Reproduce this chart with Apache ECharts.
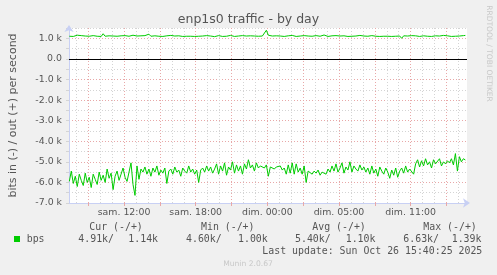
<!DOCTYPE html>
<html><head><meta charset="utf-8">
<script src="https://cdn.jsdelivr.net/npm/echarts@6/dist/echarts.min.js"></script>
<style>html,body{margin:0;padding:0;background:#F0F0F0;}#c{width:497px;height:275px;}</style>
</head><body><div id="c"></div>
<script>
// ---- data (kbit/s) ----
const startHour = 7.4167;      // Sat 07:25 (hours since Sat 00:00)
const stepHours = 1 / 6;       // 10-minute samples
const outValues = [
1.10,1.12,1.09,1.11,1.15,1.10,1.13,1.08,1.11,1.12,1.10,1.09,1.13,1.11,1.10,1.12,1.09,1.22,1.10,1.11,
1.12,1.09,1.11,1.14,1.10,1.08,1.12,1.11,1.13,1.09,1.10,1.12,1.15,1.10,1.11,1.09,1.12,1.10,1.13,1.11,
1.20,1.10,1.09,1.12,1.11,1.10,1.13,1.09,1.11,1.12,1.10,1.14,1.09,1.11,1.10,1.12,1.13,1.09,1.11,1.10,
1.12,1.10,1.15,1.09,1.11,1.10,1.12,1.11,1.09,1.13,1.10,1.11,1.12,1.08,1.10,1.13,1.11,1.09,1.12,1.10,
1.11,1.14,1.10,1.09,1.12,1.11,1.10,1.13,1.09,1.11,1.10,1.12,1.09,1.11,1.13,1.10,1.08,1.11,1.12,1.39,
1.15,1.10,1.11,1.09,1.12,1.10,1.11,1.13,1.09,1.10,1.12,1.11,1.14,1.10,1.09,1.12,1.11,1.10,1.13,1.09,
1.11,1.12,1.10,1.09,1.13,1.11,1.10,1.12,1.16,1.10,1.09,1.11,1.12,1.10,1.13,1.09,1.11,1.10,1.12,1.11,
1.09,1.13,1.10,1.12,1.11,1.09,1.14,1.10,1.11,1.12,1.10,1.09,1.13,1.11,1.10,1.12,1.09,1.11,1.10,1.14,
1.10,1.12,1.09,1.11,1.10,1.13,1.11,1.00,1.12,1.10,1.11,1.09,1.13,1.10,1.12,1.11,1.09,1.10,1.12,1.11,
1.10,1.13,1.09,1.11,1.12,1.10,1.11,1.09,1.14,1.10,1.12,1.11,1.09,1.15,1.10,1.12,1.11,1.19,1.13,1.14
];
const inValues = [
-5.95,-5.45,-6.05,-5.7,-6.2,-5.6,-5.9,-6.15,-5.55,-6.0,-5.75,-6.25,-5.6,-5.85,-6.1,-5.5,-5.9,
-5.65,-6.0,-5.35,-5.8,-5.55,-6.35,-5.7,-5.45,-5.9,-5.6,-5.3,-5.75,-5.95,-5.5,
-5.05,-6.1,-6.63,-5.2,-5.85,-5.35,
-5.5,-5.25,-5.6,-5.35,-5.7,-5.3,-5.5,-5.2,-5.65,-5.4,-5.55,-5.3,-6.05,-5.45,-5.35,-5.6,-5.25,-5.5,-5.4,-5.7,-5.3,-5.45,-5.55,-5.2,-5.5,-5.35,-5.6,-5.4,-6.0,-5.4,
-5.3,-5.5,-5.2,-5.45,-5.25,-5.55,-5.35,-5.1,-5.6,-5.2,-5.45,-5.05,-5.65,-5.25,-5.4,-5.0,-5.55,-5.15,-5.45,-5.2,-5.6,-5.1,-5.35,-4.9,-5.3,-5.15,-5.45,-5.05,-5.3,-5.2,
-5.2,-5.3,-5.15,-5.7,-5.25,-5.2,-5.35,-5.25,-5.3,-5.2,-5.4,-5.3,-5.6,-5.15,-5.55,-5.05,-5.6,-5.1,-5.5,-5.3,
-5.6,-5.2,-6.0,-5.45,
-5.5,-5.6,-5.45,-5.55,-5.4,-5.65,-5.5,-5.45,-5.6,-5.35,-5.5,
-5.2,-5.45,-5.1,-5.5,-5.3,-5.05,-5.55,-5.25,-5.4,-5.0,-5.5,-5.2,-5.35,-5.45,-5.15,-5.4,-5.25,-5.5,
-5.3,-5.6,-5.2,-5.55,-5.35,-5.7,-5.25,-5.45,-5.6,-5.3,-5.5,-5.8,-5.4,-5.65,-5.3,-5.75,-5.45,-5.3,-5.55,-5.2,-5.5,-5.35,-5.4,-5.6,
-5.1,-4.9,-5.25,-4.95,-5.2,-4.85,-5.15,-5.0,-5.3,-4.9,-5.1,-5.05,-4.85,-5.2,-5.0,
-5.1,-4.95,-5.05,-4.85,-5.15,-4.6,-5.45,-4.75,-5.0,-4.85,-4.91
];
const tickHours = [12, 18, 24, 30, 36];
const tickLabels = ['sam. 12:00', 'sam. 18:00', 'dim. 00:00', 'dim. 05:00', 'dim. 11:00'];
const gridHours = [8,9,10,11,12,13,14,15,16,17,18,19,20,21,22,23,24,25,26,27,28,29,30,31,32,33,34,35,36,37,38,39,40];
const majorHours = [9,12,15,18,21,24,27,30,33,36,39];
const seriesName = 'bps';
const legendHeaders = ['Cur (-/+)', 'Min (-/+)', 'Avg (-/+)', 'Max (-/+)'];
const legendIn = ['4.91k/', '4.60k/', '5.40k/', '6.63k/'];
const legendOut = ['1.14k', '1.00k', '1.10k', '1.39k'];
const lastUpdate = 'Last update: Sun Oct 26 15:40:25 2025';

// ---- build ----
const GREEN = '#00CC00';
const MAJ = '#E8A8A8';
const MIN = '#D4D4D4';
const AXIS = '#C8D0F4';
const outData = outValues.map((v, i) => [startHour + i * stepHours, v]);
const inData = inValues.map((v, i) => [startHour + i * stepHours, v]);

const chart = echarts.init(document.getElementById('c'), null, {renderer: 'canvas', width: 497, height: 275});
const sans = 'DejaVu Sans';
const txtColor = '#555555';

const headerX = [89.3, 201, 312.3, 423.3];
const inX = [78.3, 186, 295, 403.3];
const outX = [128.3, 238, 345.7, 451.7];
const graphics = [
  {type: 'text', x: 248.5, y: 19.5, style: {text: 'enp1s0 traffic - by day', font: '12.5px "DejaVu Sans"', fill: '#555555', align: 'center', verticalAlign: 'middle'}},
  {type: 'text', x: 488.5, y: 53.5, rotation: -Math.PI / 2, style: {text: 'RRDTOOL / TOBI OETIKER', font: '7.5px "DejaVu Sans"', fill: '#C8C8C8', align: 'center', verticalAlign: 'middle'}},
  {type: 'rect', shape: {x: 14, y: 236, width: 6, height: 6}, style: {fill: GREEN}},
  {type: 'text', x: 26.7, y: 239.7, style: {text: seriesName, font: '9.9px "DejaVu Sans Mono"', fill: txtColor, align: 'left', verticalAlign: 'middle'}},
  {type: 'text', x: 482.3, y: 251.7, style: {text: lastUpdate, font: '9.9px "DejaVu Sans Mono"', fill: txtColor, align: 'right', verticalAlign: 'middle'}},
  {type: 'text', x: 248, y: 264, style: {text: 'Munin 2.0.67', font: '7.6px "DejaVu Sans"', fill: '#C8C8C8', align: 'center', verticalAlign: 'middle'}}
];
legendHeaders.forEach((h, k) => {
  graphics.push({type: 'text', x: headerX[k], y: 227.7, style: {text: h, font: '9.9px "DejaVu Sans Mono"', fill: txtColor, align: 'left', verticalAlign: 'middle'}});
  graphics.push({type: 'text', x: inX[k], y: 239.7, style: {text: legendIn[k], font: '9.9px "DejaVu Sans Mono"', fill: txtColor, align: 'left', verticalAlign: 'middle'}});
  graphics.push({type: 'text', x: outX[k], y: 239.7, style: {text: legendOut[k], font: '9.9px "DejaVu Sans Mono"', fill: txtColor, align: 'left', verticalAlign: 'middle'}});
});

const vGrid = gridHours.map(h => ({xAxis: h, lineStyle: {color: (h % 3 === 0) ? MAJ : MIN, type: [1, 2], width: 1}}));

chart.setOption({
  backgroundColor: '#F0F0F0',
  animation: false,
  grid: {left: 67, top: 28, width: 400, height: 175, show: true, backgroundColor: '#FFFFFF', borderWidth: 0},
  xAxis: {
    type: 'value', min: 7.39, max: 40.72,
    axisLine: {show: true, onZero: false, lineStyle: {color: AXIS, width: 1}, symbol: ['none', 'arrow'], symbolSize: [7, 7], symbolOffset: [0, 3]},
    axisTick: {show: true, customValues: majorHours, length: 3, inside: false, lineStyle: {color: MAJ}},
    axisLabel: {customValues: tickHours, margin: 5, color: txtColor, fontFamily: sans, fontSize: 9.4,
      formatter: v => { const k = tickHours.indexOf(Math.round(v)); return k >= 0 ? tickLabels[k] : ''; }},
    splitLine: {show: false}
  },
  yAxis: {
    type: 'value', min: -7, max: 1.5, interval: 0.5,
    name: 'bits in (-) / out (+) per second', nameLocation: 'middle', nameRotate: 90, nameGap: 50,
    nameTextStyle: {color: txtColor, fontFamily: sans, fontSize: 11},
    axisLine: {show: true, onZero: false, lineStyle: {color: AXIS, width: 1}, symbol: ['none', 'arrow'], symbolSize: [7, 7], symbolOffset: [0, 3]},
    axisTick: {show: true, length: 3, lineStyle: {color: MIN}},
    axisLabel: {margin: 7, color: txtColor, fontFamily: sans, fontSize: 9.4,
      formatter: v => { if (Math.abs(v - Math.round(v)) > 1e-6) return ''; const r = Math.round(v); return r === 0 ? '0.0' : r.toFixed(1) + ' k'; }},
    splitLine: {show: true, showMinLine: false, lineStyle: {color: [MIN, MAJ], type: [1, 2], width: 1}}
  },
  graphic: graphics,
  series: [
    {type: 'line', data: [], z: 1, silent: true,
      markLine: {silent: true, symbol: ['none', 'none'], z: 1, animation: false, label: {show: false}, data: vGrid}},
    {type: 'line', name: 'out', data: outData, showSymbol: false, z: 3, lineStyle: {color: GREEN, width: 1}, itemStyle: {color: GREEN}},
    {type: 'line', name: 'in', data: inData, showSymbol: false, z: 3, lineStyle: {color: GREEN, width: 1}, itemStyle: {color: GREEN},
      markLine: {silent: true, symbol: ['none', 'none'], z: 4, animation: false, label: {show: false},
        data: [{yAxis: 0, lineStyle: {color: '#000000', type: 'solid', width: 1}}]}}
  ]
});
</script></body></html>
